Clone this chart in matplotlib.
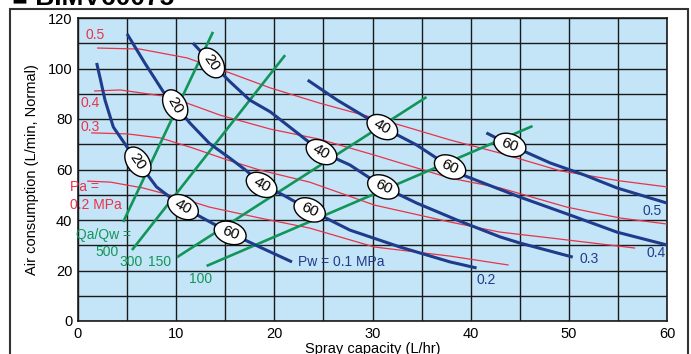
import matplotlib.pyplot as plt
from matplotlib.patches import Rectangle, Ellipse
from matplotlib.transforms import ScaledTranslation

plt.rcParams['font.family'] = ['Liberation Sans', 'DejaVu Sans']

# Pa (air pressure) curves, MPa
pa_05_x = [2.0, 6.3, 11.1, 15.5, 19.6, 24.6, 32.8, 37.9, 43.0, 49.1, 55.2, 60.0]
pa_05_y = [108.1, 107.7, 104.2, 98.2, 92.3, 86.3, 77.6, 71.7, 66.5, 59.5, 55.5, 53.1]
pa_04_x = [1.7, 4.3, 9.4, 14.5, 19.6, 24.6, 30.2, 37.9, 43.0, 49.8, 55.2, 60.0]
pa_04_y = [91.1, 91.5, 88.7, 81.5, 76.0, 72.0, 65.7, 56.6, 52.7, 45.1, 40.8, 38.4]
pa_03_x = [1.4, 5.0, 8.4, 11.7, 15.2, 18.5, 23.6, 30.2, 37.9, 43.0, 48.1, 56.7]
pa_03_y = [74.5, 74.1, 72.5, 68.5, 63.8, 59.8, 55.0, 45.9, 39.2, 35.2, 32.9, 28.9]
pa_02_x = [1.0, 3.3, 6.6, 10.1, 13.4, 18.5, 23.6, 30.2, 37.9, 43.8]
pa_02_y = [55.4, 55.0, 52.7, 49.1, 45.1, 40.8, 36.8, 29.3, 25.7, 22.2]

# Pw (water pressure) curves, MPa
pw_01_x = [1.9, 2.3, 2.75, 3.6, 5.0, 6.1, 8.0, 10.7, 12.7, 15.5, 18.5, 21.8]
pw_01_y = [102.2, 95.4, 87.5, 76.8, 68.9, 63.0, 53.1, 45.1, 40.8, 34.9, 29.3, 23.4]
pw_02_x = [5.0, 6.8, 8.7, 9.9, 11.4, 13.4, 15.5, 17.2, 18.7, 20.9, 23.6, 27.7, 32.8, 37.9, 40.6]
pw_02_y = [113.7, 102.2, 90.7, 85.5, 78.4, 70.3, 64.4, 59.4, 53.9, 49.9, 44.0, 36.0, 29.3, 23.4, 21.0]
pw_03_x = [11.7, 13.6, 15.5, 17.5, 19.6, 22.6, 24.8, 27.7, 31.1, 34.5, 38.6, 43.0, 45.0, 50.4]
pw_03_y = [110.1, 102.2, 94.7, 87.5, 82.8, 73.7, 66.9, 61.8, 53.1, 46.7, 40.0, 33.3, 30.9, 25.3]
pw_04_x = [23.4, 26.4, 31.0, 34.5, 37.9, 39.2, 45.0, 50.1, 54.9, 60.0]
pw_04_y = [95.4, 87.5, 76.8, 69.7, 61.0, 57.8, 49.1, 42.0, 35.2, 30.1]
pw_05_x = [41.6, 44.0, 48.1, 51.6, 54.9, 60.0]
pw_05_y = [74.5, 69.7, 62.6, 57.8, 52.7, 46.7]

# Qa/Qw ratio lines
qr_500 = ([4.6, 13.75], [39.2, 114.5])
qr_300 = ([5.5, 21.1], [28.1, 105.3])
qr_150 = ([10.1, 35.5], [25.3, 88.7])
qr_100 = ([13.1, 46.3], [21.8, 77.2])

# droplet size markers (um): x, y, label, rotation
drop_x = [6.1, 10.7, 15.5, 9.9, 18.7, 23.6, 13.6, 24.8, 31.1, 31.0, 37.9, 44.0]
drop_y = [63.0, 45.1, 34.9, 85.5, 53.9, 44.0, 102.2, 66.9, 53.1, 76.8, 61.0, 69.7]
drop_txt = ['20', '40', '60', '20', '40', '60', '20', '40', '60', '40', '60', '60']
drop_rot = [-55, -30, -20, -60, -30, -25, -55, -30, -25, -30, -25, -20]

RED = '#e8334a'
NAVY = '#1f3b8c'
GREEN = '#13955a'
BG = '#c4e5f7'

fig = plt.figure(figsize=(6.91, 3.54), dpi=100)
ax = fig.add_axes([78 / 691, 33 / 354, 589 / 691, 303 / 354])
ax.set_facecolor(BG)
ax.set_xlim(0, 60)
ax.set_ylim(0, 120)
ax.set_xticks(range(0, 61, 10))
ax.set_xticks(range(0, 61, 5), minor=True)
ax.set_yticks(range(0, 121, 20))
ax.set_yticks(range(0, 121, 10), minor=True)
ax.grid(True, which='both', color='#1a1a1a', lw=1.0)
ax.set_axisbelow(True)
ax.tick_params(which='both', length=0, labelsize=10.5, pad=4)
for s in ax.spines.values():
    s.set_color('#1a1a1a')
    s.set_linewidth(1.2)

for xs, ys in [(pa_05_x, pa_05_y), (pa_04_x, pa_04_y), (pa_03_x, pa_03_y), (pa_02_x, pa_02_y)]:
    ax.plot(xs, ys, color=RED, lw=0.9, zorder=3)
for xs, ys in [qr_500, qr_300, qr_150, qr_100]:
    ax.plot(xs, ys, color=GREEN, lw=1.9, zorder=4, solid_capstyle='butt')
for xs, ys in [(pw_01_x, pw_01_y), (pw_02_x, pw_02_y), (pw_03_x, pw_03_y),
               (pw_04_x, pw_04_y), (pw_05_x, pw_05_y)]:
    ax.plot(xs, ys, color=NAVY, lw=2.2, zorder=5, solid_capstyle='butt')

# droplet ellipses sized in inches, placed at data points
for x, y, t, r in zip(drop_x, drop_y, drop_txt, drop_rot):
    tr = fig.dpi_scale_trans + ScaledTranslation(x, y, ax.transData)
    ax.add_patch(Ellipse((0, 0), 0.33, 0.22, angle=r, transform=tr,
                         fc='white', ec='black', lw=1.0, zorder=6))
    ax.text(x, y, t, rotation=r, ha='center', va='center', fontsize=11, zorder=7,
            rotation_mode='anchor')

# curve labels
fs = 10
ax.text(1.7, 113.3, '0.5', color=RED, fontsize=fs, ha='center', va='center')
ax.text(1.2, 86.3, '0.4', color=RED, fontsize=fs, ha='center', va='center')
ax.text(1.2, 76.8, '0.3', color=RED, fontsize=fs, ha='center', va='center')
ax.text(-0.8, 53.1, 'Pa =', color=RED, fontsize=fs, ha='left', va='center')
ax.text(-0.8, 45.9, '0.2 MPa', color=RED, fontsize=fs, ha='left', va='center')
ax.text(-0.2, 34.1, 'Qa/Qw =', color=GREEN, fontsize=fs, ha='left', va='center')
ax.text(2.95, 27.3, '500', color=GREEN, fontsize=fs, ha='center', va='center')
ax.text(5.4, 23.4, '300', color=GREEN, fontsize=fs, ha='center', va='center')
ax.text(8.35, 23.4, '150', color=GREEN, fontsize=fs, ha='center', va='center')
ax.text(12.5, 16.6, '100', color=GREEN, fontsize=fs, ha='center', va='center')
ax.text(22.4, 23.4, 'Pw = 0.1 MPa', color=NAVY, fontsize=fs, ha='left', va='center')
ax.text(41.6, 16.2, '0.2', color=NAVY, fontsize=fs, ha='center', va='center')
ax.text(52.1, 24.6, '0.3', color=NAVY, fontsize=fs, ha='center', va='center')
ax.text(58.9, 26.9, '0.4', color=NAVY, fontsize=fs, ha='center', va='center')
ax.text(58.5, 43.6, '0.5', color=NAVY, fontsize=fs, ha='center', va='center')

ax.set_xlabel('Spray capacity (L/hr)', fontsize=10.5, labelpad=1)
ax.set_ylabel('Air consumption (L/min, Normal)', fontsize=10.5, labelpad=6)

# outer frame and cut-off title
fig.patches.append(Rectangle((10 / 691, -0.1), 678 / 691, 1.1 - 9 / 354, transform=fig.transFigure,
                             fill=False, ec='#333333', lw=1.5))
fig.text(12 / 691, 1 - 5 / 354, '\u25a0 BIMV60075', fontsize=19, fontweight='bold',
         ha='left', va='baseline')

fig.savefig('out.png', dpi=100)
